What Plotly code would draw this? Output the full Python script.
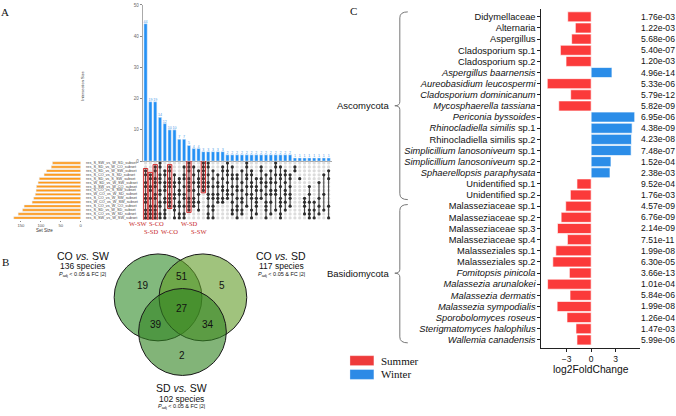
import plotly.graph_objects as go

W, H = 676, 416


def px(x):
    return x / W


def py(y):
    return 1 - y / H


# ---------------- Panel A data (UpSet) ----------------
inter_sizes = [44, 19, 19, 14, 12, 10, 10, 7, 7, 5, 4, 4, 3, 3, 3, 3, 3,
               2, 2, 2, 2, 2, 2, 2, 2, 2, 2, 2, 2, 2, 2,
               1, 1, 1, 1, 1, 1, 1, 1]

membership = [
    [2, 3, 5, 6, 8, 9, 10, 12, 13, 14],
    [3, 4, 6, 7, 9, 11, 12, 13, 14],
    [1, 2, 4, 5, 6, 8, 9, 11, 12, 13, 14],
    [0, 1, 3, 4, 5, 7, 8, 10, 11, 13, 14],
    [2, 3, 5, 6, 7, 9, 10, 12, 13, 14],
    [1, 2, 4, 5, 6, 8, 9, 10, 11],
    [3, 5, 6, 8, 9, 11, 12, 14],
    [4, 5, 7, 8, 10, 11, 13, 14],
    [1, 3, 4, 6, 8, 9, 11, 13, 14],
    [0, 1, 2, 4, 5, 6, 7, 9, 10, 11, 12],
    [1, 3, 5, 7, 9, 10, 11],
    [2, 4, 5, 6, 8, 10, 12],
    [0, 1, 2, 3, 4, 5, 6, 7],
    [0, 1, 3, 5, 6, 8, 9, 11, 13, 14],
    [2, 4, 6, 8, 9, 11, 12, 14],
    [3, 5, 6, 8, 9, 10],
    [1, 2, 4, 6, 7, 9, 10],
    [0, 2, 3, 5, 7, 8, 9],
    [1, 3, 4, 6, 8, 10, 12, 13],
    [3, 4, 6, 7, 9, 11, 12, 14],
    [2, 5, 7, 9, 10, 12, 13],
    [0, 1, 3, 4, 6, 8, 11],
    [2, 3, 5, 6, 8, 9, 12, 14],
    [4, 6, 7, 9, 10, 11, 13],
    [1, 2, 4, 5, 7, 9],
    [3, 5, 6, 8, 10, 11, 12, 14],
    [2, 4, 5, 7, 8, 10, 13],
    [0, 1, 3, 5, 7, 8, 12],
    [1, 3, 4, 6, 9, 10, 11, 13, 14],
    [2, 3, 5, 7, 8, 10, 12],
    [3, 4, 6, 8, 9, 11],
    [1, 2],
    [4],
    [9, 10, 11, 13],
    [6, 8, 10, 12, 13, 14],
    [10, 12, 14],
    [5, 9, 11, 13],
    [3, 8, 12],
    [2, 4, 11, 14],
]

set_names = [
    "res_S_SW_vs_W_SD_subset", "res_S_SD_vs_W_CO_subset", "res_S_SD_vs_W_SW_subset",
    "res_S_CO_vs_S_SD_subset", "res_S_SD_vs_S_SW_subset", "res_W_SD_vs_W_SW_subset",
    "res_S_SW_vs_W_CO_subset", "res_S_CO_vs_S_SW_subset", "res_W_CO_vs_W_SD_subset",
    "res_S_CO_vs_W_SW_subset", "res_W_CO_vs_W_SW_subset", "res_S_CO_vs_W_CO_subset",
    "res_S_SD_vs_W_SD_subset", "res_S_CO_vs_W_SD_subset", "res_S_SW_vs_W_SW_subset",
]
set_sizes = [71, 74, 86, 92, 104, 107, 111, 112, 114, 118, 122, 142, 146, 157, 168]

highlight_cols = [0, 1, 2, 5, 9, 12]
highlight_labels = ["W-SW", "S-SD", "S-CO", "W-CO", "W-SD", "S-SW"]

# ---------------- Panel B data (Venn) ----------------
venn_titles = ["CO <i>vs.</i> SW", "CO <i>vs.</i> SD", "SD <i>vs.</i> SW"]
venn_species = ["136 species", "117 species", "102 species"]
venn_counts = [19, 5, 2, 51, 39, 34, 27]  # L, R, B, LR, LB, RB, LRB

# ---------------- Panel C data ----------------
species = [
    "Didymellaceae", "Alternaria", "Aspergillus", "Cladosporium sp.1", "Cladosporium sp.2",
    "Aspergillus baarnensis", "Aureobasidium leucospermi", "Cladosporium dominicanum",
    "Mycosphaerella tassiana", "Periconia byssoides", "Rhinocladiella similis sp.1",
    "Rhinocladiella similis sp.2", "Simplicillium lanosoniveum sp.1",
    "Simplicillium lanosoniveum sp.2", "Sphaerellopsis paraphysata", "Unidentified sp.1",
    "Unidentified sp.2", "Malasseziaceae sp.1", "Malasseziaceae sp.2", "Malasseziaceae sp.3",
    "Malasseziaceae sp.4", "Malasseziales sp.1", "Malasseziales sp.2", "Fomitopsis pinicola",
    "Malassezia arunalokei", "Malassezia dermatis", "Malassezia sympodialis",
    "Sporobolomyces roseus", "Sterigmatomyces halophilus", "Wallemia canadensis",
]
species_labels = [
    "Didymellaceae", "Alternaria", "Aspergillus", "Cladosporium sp.1", "Cladosporium sp.2",
    "<i>Aspergillus baarnensis</i>", "<i>Aureobasidium leucospermi</i>",
    "<i>Cladosporium dominicanum</i>", "<i>Mycosphaerella tassiana</i>",
    "<i>Periconia byssoides</i>", "<i>Rhinocladiella similis</i> sp.1",
    "Rhinocladiella similis sp.2", "<i>Simplicillium lanosoniveum</i> sp.1",
    "<i>Simplicillium lanosoniveum</i> sp.2", "<i>Sphaerellopsis paraphysata</i>",
    "Unidentified sp.1", "Unidentified sp.2", "Malasseziaceae sp.1", "Malasseziaceae sp.2",
    "Malasseziaceae sp.3", "Malasseziaceae sp.4", "Malasseziales sp.1", "Malasseziales sp.2",
    "<i>Fomitopsis pinicola</i>", "<i>Malassezia arunalokei</i>", "<i>Malassezia dermatis</i>",
    "<i>Malassezia sympodialis</i>", "<i>Sporobolomyces roseus</i>",
    "<i>Sterigmatomyces halophilus</i>", "<i>Wallemia canadensis</i>",
]
log2fc = [-2.87, -1.94, -2.39, -3.77, -3.08, 2.55, -5.38, -2.51, -3.97, 5.34, 5.02, 4.94,
          4.90, 2.43, 2.31, -1.74, -2.55, -3.12, -3.68, -4.13, -2.91, -4.33, -4.70, -2.67,
          -5.34, -2.59, -4.17, -2.96, -1.86, -1.74]
padj = ["1.76e-03", "1.22e-03", "5.68e-06", "5.40e-07", "1.20e-03", "4.96e-14", "5.33e-06",
        "5.79e-12", "5.82e-09", "6.95e-06", "4.38e-09", "4.23e-08", "7.48e-07", "1.52e-04",
        "2.38e-03", "9.52e-04", "1.76e-03", "4.57e-09", "6.76e-09", "2.14e-09", "7.51e-11",
        "1.99e-08", "6.30e-05", "3.66e-13", "1.01e-04", "5.84e-06", "1.99e-08", "1.26e-04",
        "1.47e-03", "5.99e-06"]
phyla = ["Ascomycota", "Basidiomycota"]
phylum_counts = [17, 13]

RED = "#fb3a3a"
BLUE = "#2b8de8"
ORANGE = "#ff9a1a"
UPBLUE = "#2491f5"

fig = go.Figure()

n_cols = len(inter_sizes)
n_sets = len(set_names)
col_idx = list(range(n_cols))

# Intersection bars
fig.add_trace(go.Bar(
    x=col_idx, y=inter_sizes, marker_color=UPBLUE, width=0.68,
    text=[str(v) for v in inter_sizes], textposition="outside",
    textfont=dict(size=3.6, color="#4a9be8"), constraintext="none", cliponaxis=False,
    xaxis="x", yaxis="y", showlegend=False))

# Matrix grey dots
gx, gy = [], []
for c in col_idx:
    for r in range(n_sets):
        gx.append(c)
        gy.append(r)
fig.add_trace(go.Scatter(x=gx, y=gy, mode="markers",
                         marker=dict(size=3.2, color="#dcdcdc"),
                         xaxis="x2", yaxis="y2", showlegend=False, hoverinfo="skip"))
# Matrix lines
lx, ly = [], []
for c, rows in enumerate(membership):
    if len(rows) > 1:
        lx += [c, c, None]
        ly += [min(rows), max(rows), None]
fig.add_trace(go.Scatter(x=lx, y=ly, mode="lines", line=dict(color="#3a3a3a", width=1),
                         xaxis="x2", yaxis="y2", showlegend=False, hoverinfo="skip"))
dx, dy = [], []
for c, rows in enumerate(membership):
    for r in rows:
        dx.append(c)
        dy.append(r)
fig.add_trace(go.Scatter(x=dx, y=dy, mode="markers", marker=dict(size=3.2, color="#2e2e2e"),
                         xaxis="x2", yaxis="y2", showlegend=False, hoverinfo="skip"))

# Set size bars
fig.add_trace(go.Bar(x=set_sizes, y=list(range(n_sets)), orientation="h",
                     marker_color=ORANGE, width=0.62, xaxis="x3", yaxis="y3",
                     showlegend=False))

# Panel C bars
fig.add_trace(go.Bar(x=log2fc, y=species, orientation="h",
                     marker=dict(color=[RED if v < 0 else BLUE for v in log2fc],
                                 line=dict(color="rgba(255,255,255,0.8)", width=0.8)),
                     width=0.9, xaxis="x4", yaxis="y4", showlegend=False))

shapes = []
annotations = []


def note(x, y, text, size, color="#111", family=None, xanchor="center",
         yanchor="middle", **kw):
    f = dict(size=size, color=color)
    if family:
        f["family"] = family
    d = dict(x=x, y=y, text=text, showarrow=False, xanchor=xanchor, yanchor=yanchor,
             font=f)
    d.setdefault("xref", "paper")
    d.setdefault("yref", "paper")
    d.update(kw)
    annotations.append(d)


# red highlight boxes in matrix
for c in highlight_cols:
    rows = membership[c]
    shapes.append(dict(type="rect", xref="x2", yref="y2", x0=c - 0.45, x1=c + 0.45,
                       y0=min(rows) - 0.6, y1=max(rows) + 0.6,
                       line=dict(color="#d32f2f", width=1),
                       fillcolor="rgba(220,60,60,0.12)"))

label_pos = {"W-SW": (139, 224), "S-CO": (157, 224), "W-SD": (190, 224),
             "S-SD": (151, 232), "W-CO": (170, 232), "S-SW": (200, 232)}
for t in highlight_labels:
    x, y = label_pos[t]
    note(px(x), py(y), t, 6.5, color="#c62828", family="Liberation Serif")

# set labels
for i, name in enumerate(set_names):
    note(px(84), i, name, 3.8, color="#444", xanchor="left", yref="y3")

note(px(45), py(231), "Set Size", 4.5, color="#333")
note(px(83), py(85), "Intersection Size", 4, color="#333", textangle=-90)

# panel letters
for t, x, y in [("A", 5, 10), ("B", 6, 263), ("C", 355, 9)]:
    note(px(x), py(y), t, 11, family="Liberation Serif")

# ---------------- Venn ----------------
R = 44
circles = [(158.5, 299, "rgba(47,138,38,0.6)"),
           (203.5, 299, "rgba(97,155,38,0.6)"),
           (183, 334, "rgba(47,130,30,0.6)")]
for cx, cy, col in circles:
    shapes.append(dict(type="circle", xref="paper", yref="paper",
                       x0=px(cx - R), x1=px(cx + R), y0=py(cy + R), y1=py(cy - R),
                       fillcolor=col, line=dict(color="#1a1a1a", width=1)))
venn_pos = [(143, 287), (223, 287), (183, 358), (183, 278), (156, 326), (209, 326), (183, 310)]
for v, (x, y) in zip(venn_counts, venn_pos):
    note(px(x), py(y), str(v), 10)
title_pos = [(83, 257), (282, 257), (182, 391)]
for t, s, (x, y) in zip(venn_titles, venn_species, title_pos):
    note(px(x), py(y), t, 10.5)
    note(px(x), py(y + 10.5), s, 8.5)
    note(px(x), py(y + 18.5), "<i>P</i><sub>adj</sub> &lt; 0.05 &amp; FC |2|", 5.5)

# ---------------- Panel C extras ----------------
for s, p in zip(species, padj):
    note(px(641), s, p, 8.6, xanchor="left", yref="y4")

# phylum brackets
br = [(13, 197, 105), (208, 342, 274.5)]
for (y0, y1, ym), name in zip(br, phyla):
    xs = 401
    path = (f"M {px(409)} {py(y0 - 3)} Q {px(xs)} {py(y0 - 3)} {px(xs)} {py(y0 + 3)} "
            f"L {px(xs)} {py(ym - 4)} Q {px(xs)} {py(ym)} {px(396)} {py(ym)} "
            f"Q {px(xs)} {py(ym)} {px(xs)} {py(ym + 4)} "
            f"L {px(xs)} {py(y1 - 3)} Q {px(xs)} {py(y1 + 3)} {px(409)} {py(y1 + 3)}")
    shapes.append(dict(type="path", xref="paper", yref="paper", path=path,
                       line=dict(color="#777", width=1)))
    note(px(392), py(ym), name, 9.5, xanchor="right")

# legend
for (name, col), y in zip([("Summer", "#ee3b3b"), ("Winter", "#2d8ae6")], [363, 377]):
    shapes.append(dict(type="rect", xref="paper", yref="paper", x0=px(351), x1=px(375),
                       y0=py(y + 5), y1=py(y - 5), fillcolor=col,
                       line=dict(color="rgba(255,255,255,0.6)", width=0.5)))
    note(px(380), py(y), name, 11, family="Liberation Serif", xanchor="left")

fig.update_layout(
    width=W, height=H, autosize=False,
    margin=dict(l=0, r=0, t=0, b=0),
    paper_bgcolor="white", plot_bgcolor="rgba(0,0,0,0)",
    font=dict(family="Liberation Sans", color="#111"),
    bargap=0.1,
    shapes=shapes, annotations=annotations,
    xaxis=dict(domain=[px(143), px(332.6)], range=[-0.62, 38.62], showticklabels=False,
               showgrid=False, zeroline=False, showline=True, linecolor="#aaa",
               linewidth=1, ticks="", anchor="y"),
    yaxis=dict(domain=[py(161), py(3)], range=[0, 50], tickvals=[0, 10, 20, 30, 40, 50],
               showgrid=False, zeroline=False, showline=True, linecolor="#aaa", linewidth=1,
               ticks="outside", ticklen=2, tickcolor="#888",
               tickfont=dict(size=4.5, color="#666"), anchor="x"),
    xaxis2=dict(domain=[px(143), px(332.6)], range=[-0.62, 38.62], visible=False,
                anchor="y2"),
    yaxis2=dict(domain=[py(220.5), py(161)], range=[14.5, -0.5], visible=False,
                anchor="x2"),
    xaxis3=dict(domain=[px(10), px(81)], range=[177.5, 0], tickvals=[0, 50, 100, 150],
                showgrid=False, zeroline=False, showline=False, ticks="outside", ticklen=1.5,
                tickcolor="#888", tickfont=dict(size=4.2, color="#555"), anchor="y3"),
    yaxis3=dict(domain=[py(220.5), py(161)], range=[14.5, -0.5], visible=False,
                anchor="x3"),
    xaxis4=dict(domain=[px(543), px(642)], range=[-6.1, 6.0], tickvals=[-3, 0, 3],
                showgrid=False, zeroline=False, showline=True, linecolor="#222", linewidth=1,
                ticks="outside", ticklen=3, tickcolor="#222", tickfont=dict(size=8.5),
                title=dict(text="log2FoldChange", font=dict(size=10.3), standoff=2),
                anchor="y4"),
    yaxis4=dict(domain=[py(350), py(7)], type="category", categoryorder="array",
                categoryarray=species, range=[29.71, -0.71], tickmode="array",
                tickvals=species, ticktext=species_labels, showgrid=False, zeroline=False,
                showline=True, linecolor="#222", linewidth=1, ticks="outside", ticklen=3,
                tickcolor="#222", tickfont=dict(size=9.3, color="#111"), anchor="x4"),
)

fig.write_html("out.html", config={"displayModeBar": False},
               post_script="document.body.style.margin='0px';document.body.style.overflow='hidden';")
